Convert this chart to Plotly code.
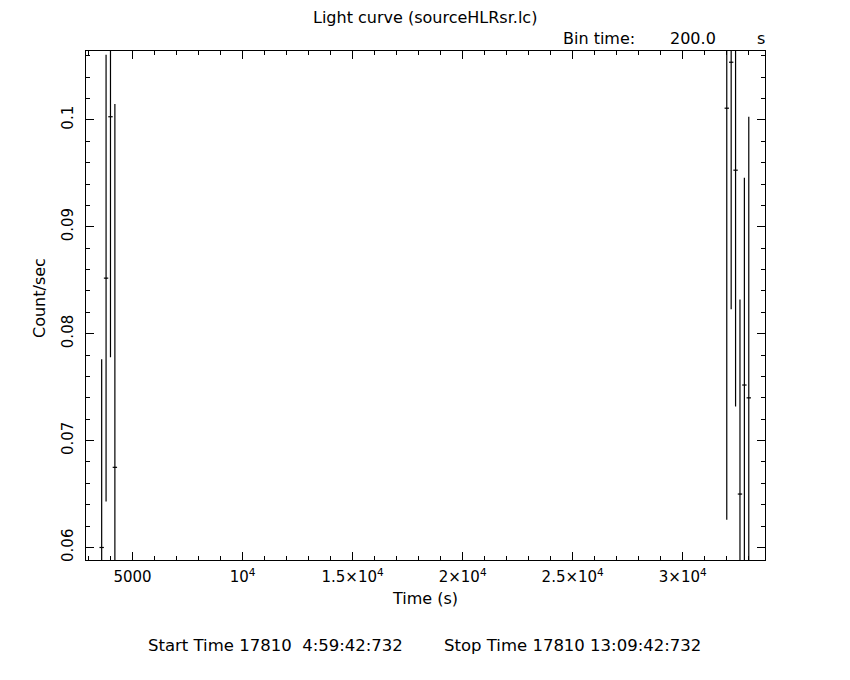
import plotly.graph_objects as go

# Light curve data (bin centres in s, rate in count/s, 1-sigma errors)
time_s = [3600, 3800, 4000, 4200, 32000, 32200, 32400, 32600, 32800, 33000]
rate = [0.0600, 0.0852, 0.1003, 0.0675, 0.1011, 0.1054, 0.0953, 0.0650, 0.0752, 0.0740]
rate_err = [0.0176, 0.0209, 0.0225, 0.0340, 0.0385, 0.0231, 0.0221, 0.0182, 0.0194, 0.0263]
half_bin = 100.0

x_tickvals = [5000, 10000, 15000, 20000, 25000, 30000]
x_ticktext = ["5000", "10<sup>4</sup>", "1.5×10<sup>4</sup>", "2×10<sup>4</sup>",
              "2.5×10<sup>4</sup>", "3×10<sup>4</sup>"]
y_tickvals = [0.06, 0.07, 0.08, 0.09, 0.1]
y_ticktext = ["0.06", "0.07", "0.08", "0.09", "0.1"]

FONT = "DejaVu Sans"
W, H = 850, 680
OFF = 8  # page body margin offset
# plot frame in page pixels: x 86..765, y 51..560
ML = 86 - OFF
MT = 51 - OFF
MR = W - (765 - OFF)
MB = H - (560 - OFF)
pw, ph = W - ML - MR, H - MT - MB


def px(x):
    return (x - OFF - ML) / pw


def py(y):
    return (H - MB - (y - OFF)) / ph


fig = go.Figure()
fig.add_trace(go.Scatter(
    x=time_s, y=rate, mode="markers",
    marker=dict(size=1, color="black"),
    error_y=dict(type="data", array=rate_err, visible=True, color="black", thickness=1.2, width=0),
    error_x=dict(type="constant", value=half_bin, visible=True, color="black", thickness=1.2, width=0),
    showlegend=False, hoverinfo="x+y",
))

axis_common = dict(
    showline=True, linecolor="black", linewidth=1, mirror="ticks",
    ticks="inside", tickcolor="black", tickwidth=1, ticklen=8,
    showgrid=False, zeroline=False,
    tickfont=dict(family=FONT, size=15, color="black"),
)

fig.update_xaxes(
    range=[2888, 33737], tickvals=x_tickvals, ticktext=x_ticktext,
    minor=dict(ticks="inside", dtick=1000, ticklen=4, tickcolor="black", tickwidth=1, showgrid=False),
    ticklabelstandoff=3,
    **axis_common,
)
fig.update_yaxes(
    range=[0.05883, 0.10645], tickvals=y_tickvals, ticktext=y_ticktext,
    tickangle=-90,
    minor=dict(ticks="inside", dtick=0.002, ticklen=4, tickcolor="black", tickwidth=1, showgrid=False),
    ticklabelstandoff=6,
    **axis_common,
)

tfont = dict(family=FONT, size=16, color="black")
bfont = dict(family=FONT, size=16.5, color="black")
ann = [
    dict(text="Light curve (sourceHLRsr.lc)", x=px(425), y=py(18), xanchor="center", yanchor="middle",
         font=dict(family=FONT, size=16, color="black")),
    dict(text="Bin time:", x=px(561), y=py(38), xanchor="left", yanchor="middle", font=tfont),
    dict(text="200.0", x=px(668), y=py(38), xanchor="left", yanchor="middle", font=tfont),
    dict(text="s", x=px(755), y=py(38), xanchor="left", yanchor="middle", font=tfont),
    dict(text="Time (s)", x=px(425), y=py(598), xanchor="center", yanchor="middle", font=tfont),
    dict(text="Count/sec", x=px(39), y=py(298), xanchor="center", yanchor="middle", textangle=-90, font=tfont),
    dict(text="Start Time 17810\u00a0\u00a04:59:42:732", x=px(146), y=py(645), xanchor="left", yanchor="middle", font=bfont),
    dict(text="Stop Time 17810 13:09:42:732", x=px(442), y=py(645), xanchor="left", yanchor="middle", font=bfont),
]
for a in ann:
    fig.add_annotation(xref="paper", yref="paper", showarrow=False, **a)

fig.update_layout(
    width=W, height=H,
    margin=dict(l=ML, r=MR, t=MT, b=MB, pad=0),
    paper_bgcolor="white", plot_bgcolor="white",
    showlegend=False,
)

fig.write_html("out.html")
